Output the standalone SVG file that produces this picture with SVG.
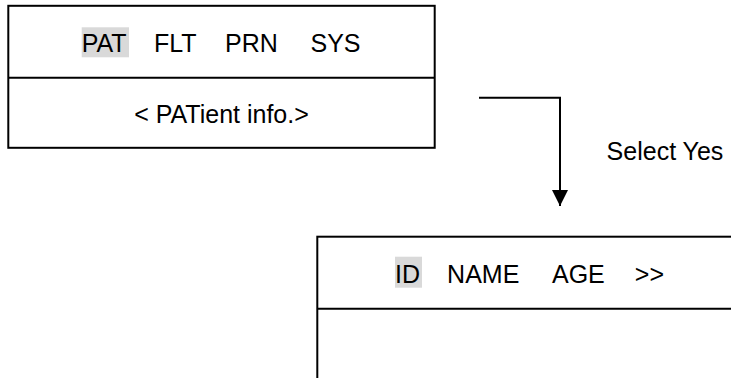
<svg xmlns="http://www.w3.org/2000/svg" width="731" height="378" viewBox="0 0 731 378">
<style>
.box{fill:none;stroke:#000;stroke-width:2}
.hl{fill:#d9d9d9}
.t{font-family:"Liberation Sans",Arial,sans-serif;font-size:25px;fill:#000}
.c{text-anchor:middle}
.conn{fill:none;stroke:#000;stroke-width:2}
</style>
<defs>
<marker id="arrow" markerUnits="userSpaceOnUse" markerWidth="16" markerHeight="16" refX="16" refY="8" orient="auto">
<path d="M0,0 L16,8 L0,16 Z" fill="#000"/>
</marker>
</defs>
<rect width="731" height="378" fill="#fff"/>
<g id="menu-top">
<rect class="box" x="8.3" y="5.8" width="426.4" height="142"/>
<line class="box" x1="8.3" y1="77.7" x2="434.7" y2="77.7"/>
<rect class="hl" x="81.7" y="27.3" width="47.3" height="30"/>
<text class="t" x="81.7" y="52.3">PAT</text>
<text class="t" x="154" y="52.3">FLT</text>
<text class="t" x="225" y="52.3">PRN</text>
<text class="t" x="310.5" y="52.3">SYS</text>
<text class="t c" x="221.5" y="123.3">&lt; PATient info.&gt;</text>
</g>
<g id="menu-patient">
<rect class="box" x="317.3" y="236.7" width="500" height="200"/>
<line class="box" x1="317.3" y1="308.8" x2="731" y2="308.8"/>
<rect class="hl" x="395" y="256.7" width="27" height="31"/>
<text class="t" x="395" y="283.3">ID</text>
<text class="t" x="447.1" y="283.3">NAME</text>
<text class="t" x="552" y="283.3">AGE</text>
<text class="t" x="634.8" y="283.3">&gt;&gt;</text>
</g>
<g id="connectors">
<path class="conn" d="M479,97.7 H560 V206" marker-end="url(#arrow)"/>
<text class="t c" x="665" y="160">Select Yes</text>
</g>
</svg>
